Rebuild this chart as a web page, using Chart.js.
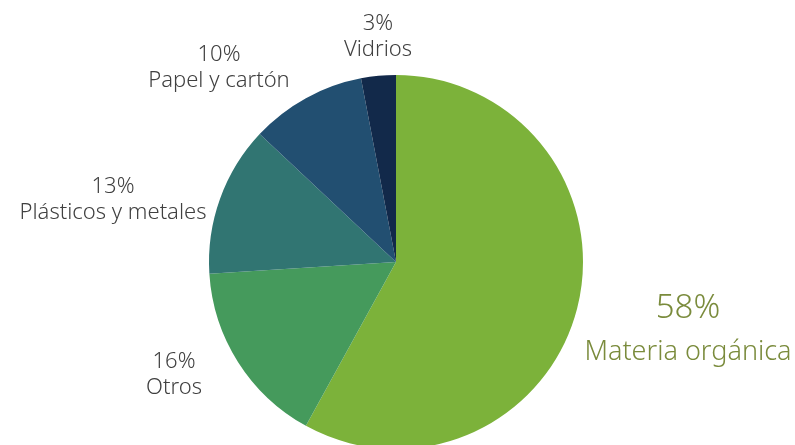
<!DOCTYPE html>
<html>
<head>
<meta charset="utf-8">
<script src="https://cdn.jsdelivr.net/npm/chart.js@4.4.0/dist/chart.umd.min.js"></script>
<style>
  html, body { margin: 0; padding: 0; background: #fff; overflow: hidden; }
  #wrap { width: 795px; height: 460px; position: relative; }
</style>
</head>
<body>
<div id="wrap"><canvas id="residuosChart"></canvas></div>
<script>
// data
var categories = ['Materia orgánica', 'Otros', 'Plásticos y metales', 'Papel y cartón', 'Vidrios'];
var shares = [58, 16, 13, 10, 3];
var sliceColors = ['#7cb23a', '#459a5c', '#317572', '#224f71', '#12294a'];

// label placement, offsets from the pie centre (style only)
var labelOffsets = [[292, 68], [-222, 113], [-283, -62], [-177, -194], [-18, -225]];

// draw the outside labels
var outsideLabels = {
  id: 'outsideLabels',
  afterDatasetsDraw: function (chart) {
    var ctx = chart.ctx;
    var arcs = chart.getDatasetMeta(0).data;
    ctx.save();
    ctx.textAlign = 'center';
    ctx.textBaseline = 'middle';
    arcs.forEach(function (arc, i) {
      var x = arc.x + labelOffsets[i][0];
      var y = arc.y + labelOffsets[i][1];
      if (i === 0) {
        ctx.fillStyle = '#7a8b3c';
        ctx.font = '300 33px "Noto Sans"';
        ctx.fillText(shares[i] + '%', x, y - 21);
        ctx.font = '300 27px "Noto Sans"';
        ctx.fillText(categories[i], x, y + 22);
      } else {
        ctx.fillStyle = '#404040';
        ctx.font = '300 22px "Noto Sans"';
        ctx.fillText(shares[i] + '%', x, y - 13);
        ctx.fillText(categories[i], x, y + 13);
      }
    });
    ctx.restore();
  }
};

var ctx = document.getElementById('residuosChart').getContext('2d');
var residuosChart = new Chart(ctx, {
  type: 'pie',
  data: {
    labels: categories,
    datasets: [{
      data: shares,
      backgroundColor: sliceColors,
      borderWidth: 0
    }]
  },
  options: {
    responsive: true,
    maintainAspectRatio: false,
    animation: false,
    layout: { padding: { top: 75, bottom: 11, left: 209, right: 212 } },
    plugins: {
      legend: { display: false },
      tooltip: { enabled: false }
    }
  },
  plugins: [outsideLabels]
});
</script>
</body>
</html>
